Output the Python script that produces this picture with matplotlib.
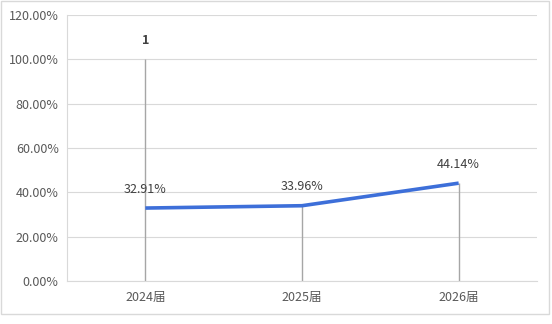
import matplotlib.pyplot as plt
from matplotlib.patches import Rectangle
from matplotlib.ticker import FuncFormatter

plt.rcParams['font.family'] = ['Noto Sans CJK SC', 'DejaVu Sans']

categories = ['2024届', '2025届', '2026届']
rates = [0.3291, 0.3396, 0.4414]
rate_labels = ['32.91%', '33.96%', '44.14%']
marker_value = 1.0
marker_label = '1'

fig = plt.figure(figsize=(5.52, 3.24), dpi=100)
ax = fig.add_axes([67 / 552, 1 - 281 / 324, 470 / 552, 266 / 324])

x = list(range(len(categories)))

# drop lines
drops = [marker_value] + rates[1:]
ax.vlines(x, 0, drops, color='#a6a6a6', linewidth=1, zorder=2)

ax.plot(x, rates, color='#3d6fd9', linewidth=2.6, solid_capstyle='butt', zorder=3)

for xi, v, lab in zip(x, rates, rate_labels):
    ax.annotate(lab, (xi, v), xytext=(0, 9), textcoords='offset points',
                ha='center', va='bottom', fontsize=9, color='#404040')
ax.annotate(marker_label, (0, marker_value), xytext=(0, 9), textcoords='offset points',
            ha='center', va='bottom', fontsize=9, color='#404040', fontweight='bold')

ax.set_xlim(-0.5, 2.5)
ax.set_ylim(0, 1.2)
ax.set_yticks([0, 0.2, 0.4, 0.6, 0.8, 1.0, 1.2])
ax.yaxis.set_major_formatter(FuncFormatter(lambda v, p: f'{v * 100:.2f}%'))
ax.set_xticks(x)
ax.set_xticklabels(categories)
ax.tick_params(axis='both', length=0, labelsize=9, labelcolor='#595959')
ax.tick_params(axis='x', pad=7)
ax.tick_params(axis='y', pad=6)
ax.grid(axis='y', color='#d9d9d9', linewidth=0.8)
ax.set_axisbelow(True)
for s in ['top', 'right']:
    ax.spines[s].set_visible(False)
ax.spines['left'].set_color('#d9d9d9')
ax.spines['bottom'].set_color('#d9d9d9')

# outer chart border
fig.patches.append(Rectangle((1 / 552, 1 - 314 / 324), 548 / 552, 313 / 324,
                             transform=fig.transFigure, fill=False,
                             edgecolor='#d9d9d9', linewidth=1))

fig.savefig('out.png', dpi=100)
